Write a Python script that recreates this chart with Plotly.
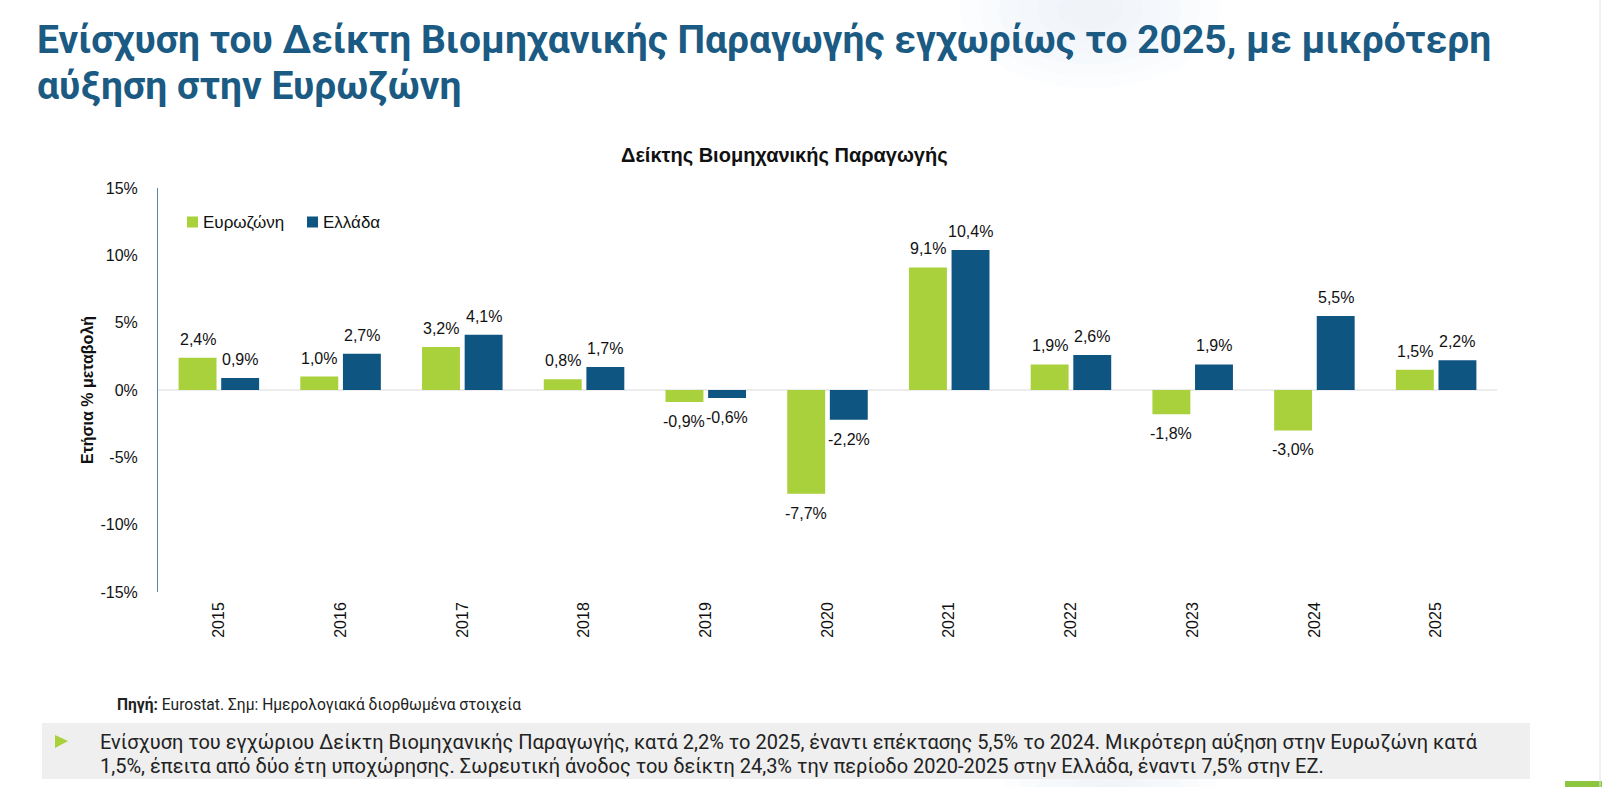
import plotly.graph_objects as go

years = ["2015", "2016", "2017", "2018", "2019", "2020", "2021", "2022", "2023", "2024", "2025"]
eurozone = [2.4, 1.0, 3.2, 0.8, -0.9, -7.7, 9.1, 1.9, -1.8, -3.0, 1.5]
greece = [0.9, 2.7, 4.1, 1.7, -0.6, -2.2, 10.4, 2.6, 1.9, 5.5, 2.2]
series_names = ["Ευρωζώνη", "Ελλάδα"]
y_ticks = [-15, -10, -5, 0, 5, 10, 15]

GREEN = "#a9d13b"
BLUE = "#0f5582"
TITLE_BLUE = "#1a5a83"
TXT = "#111111"
ARIAL = "Liberation Sans, Arial"

W, H = 1602, 787
L, R, T, B = 158, 1497, 188, 592
BARGAP, BARGROUPGAP = 0.30, 0.11


def px(x):
    return (x - L) / (R - L)


def py(y):
    return (B - y) / (B - T)


def fmt(v):
    return f"{v:.1f}".replace(".", ",") + "%"


fig = go.Figure()
for name, vals, col in [(series_names[0], eurozone, GREEN), (series_names[1], greece, BLUE)]:
    fig.add_trace(go.Bar(x=years, y=vals, name=name, marker=dict(color=col, line=dict(width=0))))

shapes = []
# faint radial glows (concentric translucent circles)
for cx, cy, r0 in [(1090, 10, 130), (1110, 800, 110)]:
    for k in range(6):
        r = r0 * (1 - k * 0.15)
        shapes.append(dict(type="circle", xref="paper", yref="paper",
                           x0=px(cx - r), x1=px(cx + r), y0=py(cy + r * 0.6), y1=py(cy - r * 0.6),
                           fillcolor="rgba(228,240,250,0.10)", line=dict(width=0), layer="below"))

shapes += [
    dict(type="rect", xref="paper", yref="paper", x0=px(42), x1=px(1530), y0=py(779), y1=py(723),
         fillcolor="#efefef", line=dict(width=0), layer="below"),
    dict(type="path", xref="paper", yref="paper",
         path=f"M {px(55)} {py(735)} L {px(68)} {py(741)} L {px(55)} {py(748)} Z",
         fillcolor=GREEN, line=dict(width=0)),
    dict(type="rect", xref="paper", yref="paper", x0=px(1565), x1=px(1602), y0=py(787), y1=py(781),
         fillcolor="#8cc63f", line=dict(width=0)),
    dict(type="line", xref="paper", yref="paper", x0=px(1600), x1=px(1600), y0=py(787), y1=py(0),
         line=dict(color="#e4e4e4", width=1)),
    dict(type="line", xref="paper", yref="y", x0=0, x1=1, y0=0, y1=0,
         line=dict(color="#d9d9d9", width=1), layer="below"),
]

legend_x = [187, 307]
for xs, col in zip(legend_x, [GREEN, BLUE]):
    shapes.append(dict(type="rect", xref="paper", yref="paper", x0=px(xs), x1=px(xs + 11),
                       y0=py(227.5), y1=py(216.5), fillcolor=col, line=dict(width=0)))

annotations = [
    dict(text="Ενίσχυση του Δείκτη Βιομηχανικής Παραγωγής εγχωρίως το 2025, με μικρότερη",
         xref="paper", yref="paper", x=px(35), y=py(40), xanchor="left", yanchor="middle",
         showarrow=False, font=dict(family="Roboto", size=39, color=TITLE_BLUE, weight="bold")),
    dict(text="αύξηση στην Ευρωζώνη",
         xref="paper", yref="paper", x=px(35), y=py(86), xanchor="left", yanchor="middle",
         showarrow=False, font=dict(family="Roboto", size=39, color=TITLE_BLUE, weight="bold")),
    dict(text="<b>Δείκτης Βιομηχανικής Παραγωγής</b>", xref="paper", yref="paper",
         x=px(784), y=py(155), xanchor="center", yanchor="middle", showarrow=False,
         font=dict(family=ARIAL, size=20, color=TXT)),
    dict(text="<b>Ετήσια % μεταβολή</b>", xref="paper", yref="paper", x=px(87), y=py(390),
         xanchor="center", yanchor="middle", textangle=-90, showarrow=False,
         font=dict(family=ARIAL, size=16, color=TXT)),
    dict(text="<b>Πηγή:</b> Eurostat. Σημ: Ημερολογιακά διορθωμένα στοιχεία", xref="paper", yref="paper",
         x=px(115), y=py(705), xanchor="left", yanchor="middle", showarrow=False,
         font=dict(family="Roboto", size=15.6, color="#222222")),
    dict(text="Ενίσχυση του εγχώριου Δείκτη Βιομηχανικής Παραγωγής, κατά 2,2% το 2025, έναντι επέκτασης 5,5% το 2024. Μικρότερη αύξηση στην Ευρωζώνη κατά",
         xref="paper", yref="paper", x=px(98), y=py(742), xanchor="left", yanchor="middle",
         showarrow=False, font=dict(family="Roboto", size=20, color="#222222")),
    dict(text="1,5%, έπειτα από δύο έτη υποχώρησης. Σωρευτική άνοδος του δείκτη 24,3% την περίοδο 2020-2025 στην Ελλάδα, έναντι 7,5% στην ΕΖ.",
         xref="paper", yref="paper", x=px(98), y=py(766), xanchor="left", yanchor="middle",
         showarrow=False, font=dict(family="Roboto", size=20, color="#222222")),
]
for xs, name in zip(legend_x, series_names):
    annotations.append(dict(text=name, xref="paper", yref="paper", x=px(xs + 14), y=py(222),
                            xanchor="left", yanchor="middle", showarrow=False,
                            font=dict(family=ARIAL, size=17, color=TXT)))

# data labels: placed at each bar's value (category index on x), shifted to its slot
cat_px = (R - L) / len(years)
slot_px = (1 - BARGAP) * cat_px / 2
for si, vals in enumerate([eurozone, greece]):
    shift = (si - 0.5) * slot_px
    for ci, v in enumerate(vals):
        pos = v >= 0
        annotations.append(dict(text=fmt(v), x=ci, y=v, xref="x", yref="y",
                                xshift=shift, yshift=8 if pos else -9,
                                xanchor="center", yanchor="bottom" if pos else "top",
                                showarrow=False, font=dict(family=ARIAL, size=16, color=TXT)))

fig.update_layout(
    width=W, height=H,
    margin=dict(l=L, r=W - R, t=T, b=H - B, autoexpand=False),
    paper_bgcolor="white", plot_bgcolor="white",
    barmode="group", bargap=BARGAP, bargroupgap=BARGROUPGAP,
    showlegend=False,
    xaxis=dict(type="category", tickangle=-90, showgrid=False, showline=False, ticks="",
               tickfont=dict(family=ARIAL, size=16, color=TXT), ticklabelstandoff=6,
               range=[-0.5, len(years) - 0.5]),
    yaxis=dict(range=[-15, 15], tickvals=y_ticks, ticktext=[f"{v}%" for v in y_ticks],
               showgrid=False, zeroline=False, showline=True, linecolor="#5a86ab", linewidth=1,
               ticks="", ticklabelstandoff=16,
               tickfont=dict(family=ARIAL, size=16, color=TXT)),
    shapes=shapes, annotations=annotations,
    font=dict(family=ARIAL),
)

fig.write_html("out.html")
